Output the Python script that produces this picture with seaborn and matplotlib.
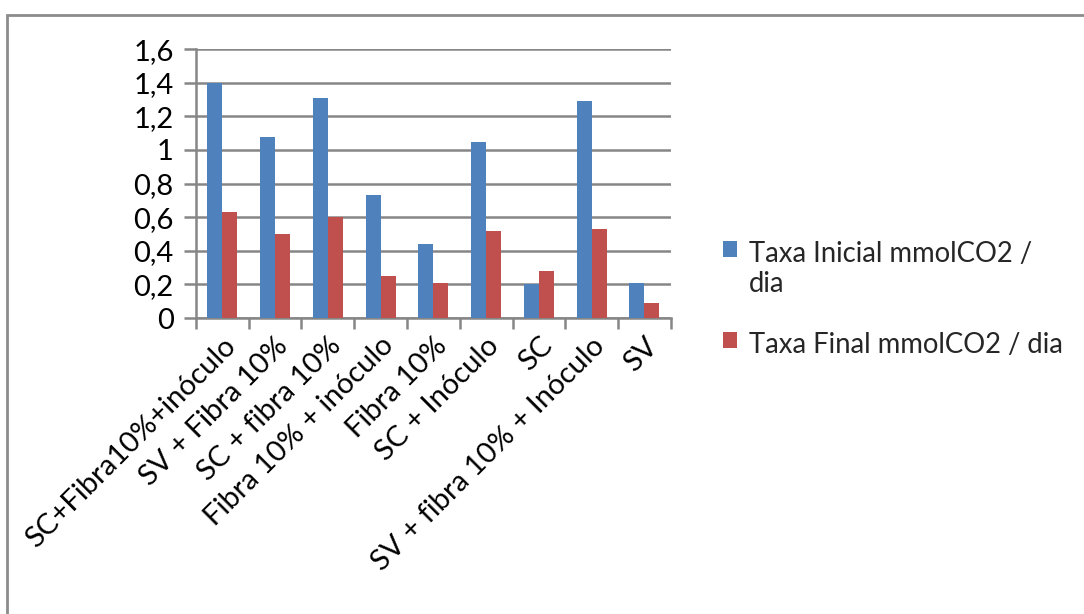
import matplotlib
matplotlib.use("Agg")
import matplotlib.pyplot as plt
import matplotlib.transforms as mtrans
import seaborn as sns
import pandas as pd
from matplotlib.ticker import FuncFormatter, FixedLocator
from matplotlib.patches import Rectangle

categories = ["SC+Fibra10%+inóculo", "SV + Fibra 10%", "SC + fibra 10%",
              "Fibra 10% + inóculo", "Fibra 10%", "SC + Inóculo", "SC",
              "SV + fibra 10% + Inóculo", "SV"]
taxa_inicial = [1.40, 1.08, 1.31, 0.73, 0.44, 1.05, 0.20, 1.29, 0.21]
taxa_final = [0.63, 0.50, 0.60, 0.25, 0.21, 0.52, 0.28, 0.53, 0.09]
series_names = ["Taxa Inicial mmolCO2 /\ndia", "Taxa Final mmolCO2 / dia"]
yticks = [0, 0.2, 0.4, 0.6, 0.8, 1.0, 1.2, 1.4, 1.6]

df = pd.DataFrame({
    "cat": categories * 2,
    "val": taxa_inicial + taxa_final,
    "serie": [series_names[0]] * len(categories) + [series_names[1]] * len(categories),
})

sns.set_theme(style="white")
plt.rcParams["font.family"] = ["Lato", "DejaVu Sans"]

fig = plt.figure(figsize=(10.84, 6.14), dpi=100)
ax = fig.add_axes([0.1808, 0.482, 0.438, 0.438])

grid_c = "#868686"
sns.barplot(data=df, x="cat", y="val", hue="serie", order=categories,
            hue_order=series_names, palette=["#4F81BD", "#C0504D"],
            width=0.57, gap=0, saturation=1, ax=ax, legend=True, zorder=3,
            linewidth=0)

ax.set_ylim(0, 1.6)
ax.set_xlim(-0.5, len(categories) - 0.5)
ax.yaxis.set_major_locator(FixedLocator(yticks))
ax.yaxis.set_major_formatter(FuncFormatter(lambda v, p: ("%g" % round(v, 1)).replace(".", ",")))
ax.grid(axis="y", color=grid_c, linewidth=1.8, zorder=0)
ax.set_axisbelow(True)
ax.set_xlabel("")
ax.set_ylabel("")
for s in ["top", "right"]:
    ax.spines[s].set_visible(False)
for s in ["left", "bottom"]:
    ax.spines[s].set_color(grid_c)
    ax.spines[s].set_linewidth(1.8)

ax.tick_params(axis="y", which="major", length=9, width=1.8, color=grid_c,
               labelsize=21, labelcolor="black", pad=7, left=True)
ax.set_xticks([i - 0.5 for i in range(len(categories) + 1)], minor=True)
ax.tick_params(axis="x", which="minor", length=8, width=1.8, color=grid_c, bottom=True)
ax.tick_params(axis="x", which="major", length=0, labelsize=21, labelcolor="black", pad=17)
ax.set_xticks(range(len(categories)))
ax.set_xticklabels(categories, rotation=45, ha="right", va="center",
                   rotation_mode="anchor")
offset = mtrans.ScaledTranslation(9 / 100, 0, fig.dpi_scale_trans)
for lbl in ax.get_xticklabels():
    lbl.set_transform(lbl.get_transform() + offset)

h, l = ax.get_legend_handles_labels()
ax.get_legend().remove()
leg = fig.legend(h, l, loc="upper left", bbox_to_anchor=(0.657, 0.625),
                 frameon=False, fontsize=19.8, handlelength=0.5, handleheight=0.5,
                 handletextpad=0.45, labelspacing=1.25, borderaxespad=0)
for col in leg._legend_handle_box.get_children():
    for row in col.get_children():
        row.align = "top"

fig.patches.append(Rectangle((7 / 1084, -0.1), 1.2, 1 - 15 / 614 + 0.1,
                             transform=fig.transFigure, fill=False,
                             edgecolor="#8c8c8c", linewidth=2))

fig.savefig("out.png", dpi=100)
